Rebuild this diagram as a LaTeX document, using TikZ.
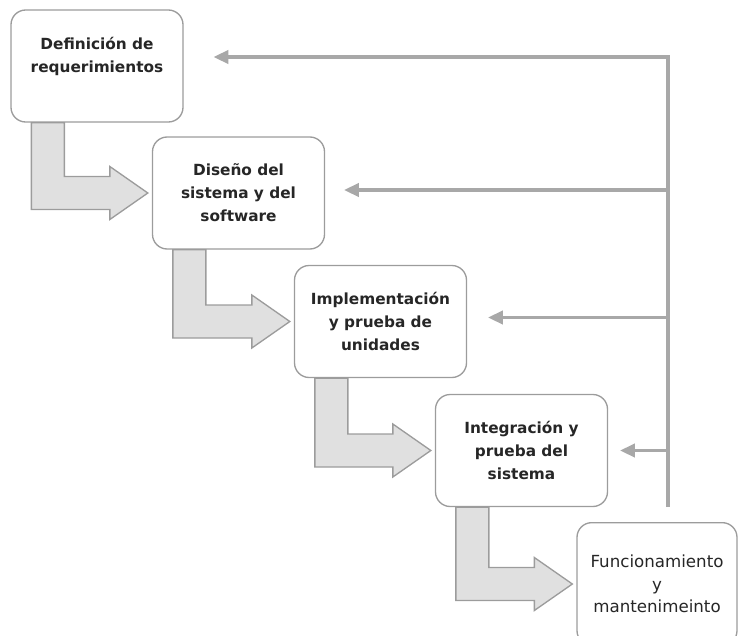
\documentclass[tikz,border=0pt]{standalone}
\usepackage{fontspec}
\setmainfont{DejaVu Sans}
\usetikzlibrary{positioning}
\usetikzlibrary{calc}
\usetikzlibrary{arrows.meta}
\usepackage{xcolor}
\definecolor{bordegris}{HTML}{9C9C9C}
\definecolor{lineagris}{HTML}{A8A8A8}
\definecolor{rellenogris}{HTML}{E0E0E0}
\definecolor{textogris}{HTML}{262626}

\begin{document}
\begin{tikzpicture}[x=0.75pt,y=-0.75pt,
    fase/.style={draw=bordegris, line width=1pt, rounded corners=11pt, fill=white,
        minimum width=129pt, minimum height=84pt, align=center, text=textogris,
        font=\fontsize{11.5}{17.2}\selectfont\bfseries},
    bloque/.style={draw=bordegris, line width=1pt, fill=rellenogris, line join=miter},
    retorno/.style={draw=lineagris, line width=2.3pt, -{Triangle[length=11pt,width=10pt]}}]
    \useasboundingbox (0,0) rectangle (738,635);
    \clip (0,0) rectangle (738,635);

    % fases del modelo en cascada
    \node[fase] (req) at (97,66) {Definición de\\requerimientos\\\mbox{}};
    \node[fase] (dis) at (238.5,193) {Diseño del\\sistema y del\\software};
    \node[fase] (imp) at (380.5,321.5) {Implementación\\y prueba de\\unidades};
    \node[fase] (integ) at (521.5,450.5) {Integración y\\prueba del\\sistema};
    \node[fase, minimum width=120pt, minimum height=92pt, font=\fontsize{12.5}{16.8}\selectfont]
        (func) at (657,584) {Funcionamiento\\y\\mantenimeinto};

    % flechas en L entre fases
    \foreach \a/\b in {req/dis, dis/imp, imp/integ, integ/func} {
        \draw[bloque] ($(\a.south west)+(21,0)$) -- ($(\a.south west)+(54,0)$)
            |- ($(\b.west)+(-42,-16.5)$) -- ++(0,-10) -- ($(\b.west)+(-4,0)$)
            -- ++(-38,26.5) -- ++(0,-10) -| ($(\a.south west)+(21,0)$) -- cycle;
    }

    % lineas de retorno
    \coordinate (ret) at (668,507);
    \coordinate (p1) at ($(req.east)+(30,-9)$);
    \draw[retorno] (ret) -- (ret |- p1) -- (p1);
    \foreach \n/\dy/\gap in {dis/-3/19, imp/-4/21, integ/0/12} {
        \coordinate (p) at ($(\n.east)+(\gap,\dy)$);
        \draw[retorno] (p -| ret) -- (p);
    }
\end{tikzpicture}
\end{document}
